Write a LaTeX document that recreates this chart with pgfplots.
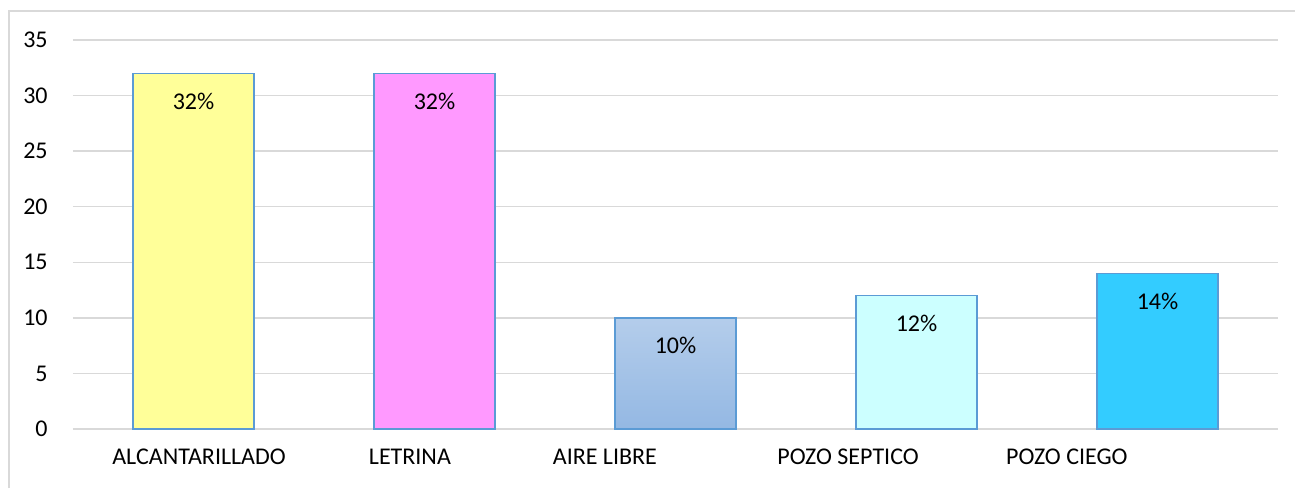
\documentclass[border=0pt]{standalone}
\usepackage{fontspec}
\setmainfont{Carlito}
\usepackage{pgfplots}
\pgfplotsset{compat=1.18}
\definecolor{gridc}{HTML}{D9D9D9}
\definecolor{edgec}{HTML}{5B9BD5}
\definecolor{c1}{HTML}{FFFF99}
\definecolor{c2}{HTML}{FF99FF}
\definecolor{c3t}{HTML}{B4CDEB}
\definecolor{c3b}{HTML}{94B8E3}
\definecolor{c4}{HTML}{CCFFFF}
\definecolor{c5}{HTML}{33CCFF}
\begin{document}
\fontsize{12}{14.4}\selectfont
\begin{tikzpicture}
\begin{axis}[
  at={(0,0)}, anchor=south west,
  scale only axis, width=602.5pt, height=194.5pt,
  xmin=-0.5, xmax=4.5, ymin=0, ymax=35,
  ytick={0,5,...,35},
  xtick={0.023,0.898,1.707,2.716,3.624},
  xticklabels={ALCANTARILLADO,LETRINA,AIRE LIBRE,POZO SEPTICO,POZO CIEGO},
  major tick length=0pt,
  axis line style={draw=none},
  ymajorgrids, major grid style={gridc, line width=0.75pt},
  /pgf/number format/assume math mode=true,
  xticklabel style={anchor=base, yshift=-17.5pt},
  yticklabel style={xshift=-8.5pt},
  ybar, bar width=0.5, bar shift=0pt,
  nodes near coords={\pgfmathprintnumber{\pgfplotspointmeta}\%},
  every node near coord/.append style={anchor=base, yshift=-18pt, text=black},
  clip=false,
]
\addplot[fill=c1, draw=edgec, line width=0.8pt] coordinates {(0,32)};
\addplot[fill=c2, draw=edgec, line width=0.8pt] coordinates {(1,32)};
\addplot[top color=c3t, bottom color=c3b, draw=edgec, line width=0.8pt] coordinates {(2,10)};
\addplot[fill=c4, draw=edgec, line width=0.8pt] coordinates {(3,12)};
\addplot[fill=c5, draw=edgec, line width=0.8pt] coordinates {(4,14)};
\end{axis}
\draw[gridc, line width=0.75pt] (-32pt,-29.5pt) -- (-32pt,209pt) -- (611pt,209pt);
\pgfresetboundingbox
\useasboundingbox (-36.5pt,-29.5pt) rectangle (611pt,214.5pt);
\end{tikzpicture}
\end{document}
